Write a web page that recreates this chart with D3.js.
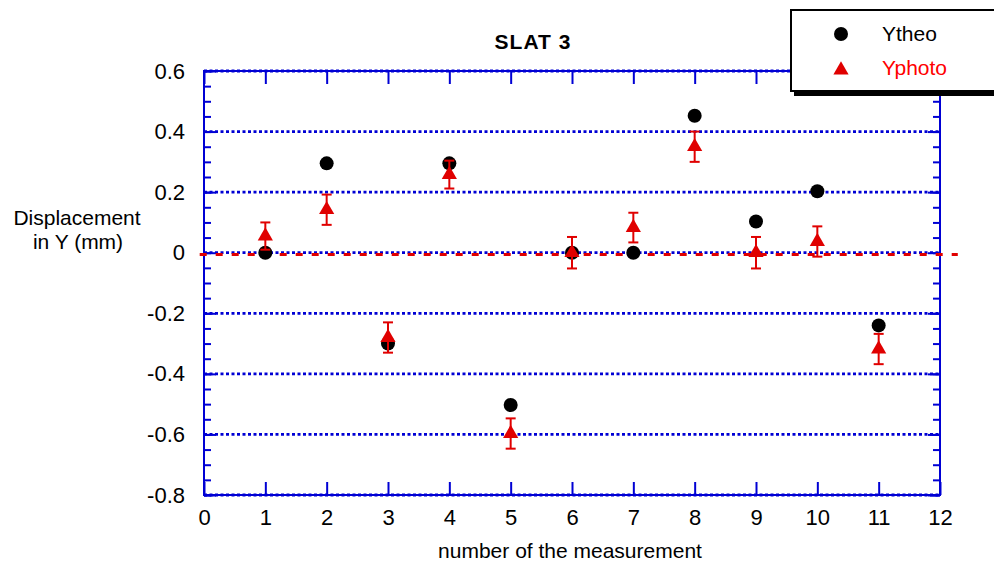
<!DOCTYPE html>
<html>
<head>
<meta charset="utf-8">
<script src="https://cdn.jsdelivr.net/npm/d3@7"></script>
<style>
  body { margin: 0; background: #fff; }
  text { font-family: "Liberation Sans", Arial, sans-serif; }
</style>
</head>
<body>
<div id="chart"></div>
<script>
// Data
var measurement = [1, 2, 3, 4, 5, 6, 7, 8, 9, 10, 11];
var yTheo = [0, 0.295, -0.30, 0.295, -0.503, 0, 0, 0.452, 0.103, 0.203, -0.24];
var yPhoto = [0.055, 0.142, -0.28, 0.258, -0.597, 0.0, 0.083, 0.35, 0.0, 0.037, -0.318];
var yPhotoErr = [0.045, 0.05, 0.05, 0.046, 0.05, 0.052, 0.049, 0.05, 0.052, 0.05, 0.05];
var xTicks = [0, 1, 2, 3, 4, 5, 6, 7, 8, 9, 10, 11, 12];
var yTicks = [0.6, 0.4, 0.2, 0, -0.2, -0.4, -0.6, -0.8];
var yMinorTicks = d3.range(-0.8, 0.6001, 0.05).map(function(v) { return +v.toFixed(2); });
var zeroLine = { y: -0.006, from: -0.07, to: 12.29 };

var svgWidth = 994;
var svgHeight = 565;
var chartMargin = { top: 71, right: 54, bottom: 70, left: 204 };
var chartWidth = 940 - chartMargin.left;
var chartHeight = 495 - chartMargin.top;

var blue = "#0000d4";
var red = "#e00000";

var svg = d3.select("#chart")
    .append("svg")
    .attr("width", svgWidth)
    .attr("height", svgHeight);

var chartGroup = svg.append("g")
    .attr("transform", `translate(${chartMargin.left}, ${chartMargin.top})`);

var xScale = d3.scaleLinear().domain([0, 12]).range([0, chartWidth]);
var yScale = d3.scaleLinear().domain([-0.8, 0.6]).range([chartHeight, 0]);

// Frame
chartGroup.append("rect")
    .attr("x", 0).attr("y", 0)
    .attr("width", chartWidth).attr("height", chartHeight)
    .attr("fill", "none")
    .attr("stroke", blue)
    .attr("stroke-width", 2);

// Dotted gridlines
chartGroup.selectAll("line.grid")
    .data(yTicks)
    .enter()
    .append("line")
    .attr("class", "grid")
    .attr("x1", 0).attr("x2", chartWidth)
    .attr("y1", d => yScale(d)).attr("y2", d => yScale(d))
    .attr("stroke", blue)
    .attr("stroke-width", 2.8)
    .attr("stroke-dasharray", "3,2.5");

function styleAxis(g) {
    g.select(".domain").remove();
    g.selectAll(".tick line").attr("stroke", blue).attr("stroke-width", 2);
    g.selectAll(".tick text")
        .attr("fill", "#000")
        .style("font-family", "'Liberation Sans', Arial, sans-serif")
        .style("font-size", "22px");
}

var yFormat = d => d === 0 ? "0" : d3.format(".1f")(d).replace("\u2212", "-");

// Left axis with labels, minor ticks
chartGroup.append("g")
    .call(d3.axisLeft(yScale).tickValues(yTicks).tickSize(-12).tickPadding(19).tickFormat(yFormat))
    .call(styleAxis);
chartGroup.append("g")
    .call(d3.axisLeft(yScale).tickValues(yMinorTicks).tickSize(-7).tickFormat(""))
    .call(styleAxis);

// Right axis ticks
chartGroup.append("g")
    .attr("transform", `translate(${chartWidth}, 0)`)
    .call(d3.axisRight(yScale).tickValues(yTicks).tickSize(-12).tickFormat(""))
    .call(styleAxis);
chartGroup.append("g")
    .attr("transform", `translate(${chartWidth}, 0)`)
    .call(d3.axisRight(yScale).tickValues(yMinorTicks).tickSize(-7).tickFormat(""))
    .call(styleAxis);

// Bottom axis with labels
chartGroup.append("g")
    .attr("transform", `translate(0, ${chartHeight})`)
    .call(d3.axisBottom(xScale).tickValues(xTicks).tickSize(-13).tickPadding(14))
    .call(styleAxis);

// Top axis ticks
chartGroup.append("g")
    .call(d3.axisTop(xScale).tickValues(xTicks).tickSize(-13).tickFormat(""))
    .call(styleAxis);

// Red dashed zero line
chartGroup.append("line")
    .attr("x1", xScale(zeroLine.from)).attr("x2", xScale(zeroLine.to))
    .attr("y1", yScale(zeroLine.y)).attr("y2", yScale(zeroLine.y))
    .attr("stroke", red)
    .attr("stroke-width", 3)
    .attr("stroke-dasharray", "7,9");

// Ytheo circles
chartGroup.selectAll("circle.theo")
    .data(measurement)
    .enter()
    .append("circle")
    .attr("class", "theo")
    .attr("cx", d => xScale(d))
    .attr("cy", (d, i) => yScale(yTheo[i]))
    .attr("r", 7)
    .attr("fill", "#000");

// Yphoto error bars
var errGroup = chartGroup.selectAll("g.err")
    .data(measurement)
    .enter()
    .append("g")
    .attr("class", "err")
    .attr("stroke", red)
    .attr("stroke-width", 2);
errGroup.append("line")
    .attr("x1", d => xScale(d)).attr("x2", d => xScale(d))
    .attr("y1", (d, i) => yScale(yPhoto[i] + yPhotoErr[i]))
    .attr("y2", (d, i) => yScale(yPhoto[i] - yPhotoErr[i]));
errGroup.append("line")
    .attr("x1", d => xScale(d) - 5).attr("x2", d => xScale(d) + 5)
    .attr("y1", (d, i) => yScale(yPhoto[i] + yPhotoErr[i]))
    .attr("y2", (d, i) => yScale(yPhoto[i] + yPhotoErr[i]));
errGroup.append("line")
    .attr("x1", d => xScale(d) - 5).attr("x2", d => xScale(d) + 5)
    .attr("y1", (d, i) => yScale(yPhoto[i] - yPhotoErr[i]))
    .attr("y2", (d, i) => yScale(yPhoto[i] - yPhotoErr[i]));

// Yphoto triangles
var triangle = d3.symbol().type(d3.symbolTriangle).size(100);
chartGroup.selectAll("path.photo")
    .data(measurement)
    .enter()
    .append("path")
    .attr("class", "photo")
    .attr("d", triangle)
    .attr("transform", (d, i) => `translate(${xScale(d)}, ${yScale(yPhoto[i])})`)
    .attr("fill", red);

// Title and axis labels
svg.append("text")
    .attr("x", 533).attr("y", 49)
    .style("text-anchor", "middle")
    .attr("font-size", "21px")
    .attr("font-weight", "bold")
    .attr("letter-spacing", "1px")
    .text("SLAT 3");

svg.append("text")
    .attr("x", 570).attr("y", 558)
    .style("text-anchor", "middle")
    .attr("font-size", "21px")
    .text("number of the measurement");

var yLabel = svg.append("text")
    .style("text-anchor", "middle")
    .attr("font-size", "21px");
yLabel.append("tspan").attr("x", 77).attr("y", 225).text("Displacement");
yLabel.append("tspan").attr("x", 78).attr("y", 249).text("in Y (mm)");

// Legend
var legend = svg.append("g");
legend.append("rect")
    .attr("x", 794).attr("y", 14)
    .attr("width", 220).attr("height", 82)
    .attr("fill", "#000");
legend.append("rect")
    .attr("x", 791).attr("y", 10)
    .attr("width", 220).attr("height", 81)
    .attr("fill", "#fff")
    .attr("stroke", "#000")
    .attr("stroke-width", 2);
legend.append("circle")
    .attr("cx", 841).attr("cy", 34).attr("r", 7).attr("fill", "#000");
legend.append("path")
    .attr("d", triangle)
    .attr("transform", "translate(841, 70)")
    .attr("fill", red);
legend.append("text")
    .attr("x", 882).attr("y", 41)
    .attr("font-size", "21px")
    .text("Ytheo");
legend.append("text")
    .attr("x", 882).attr("y", 75)
    .attr("font-size", "21px")
    .attr("fill", "#ff0000")
    .text("Yphoto");
</script>
</body>
</html>
